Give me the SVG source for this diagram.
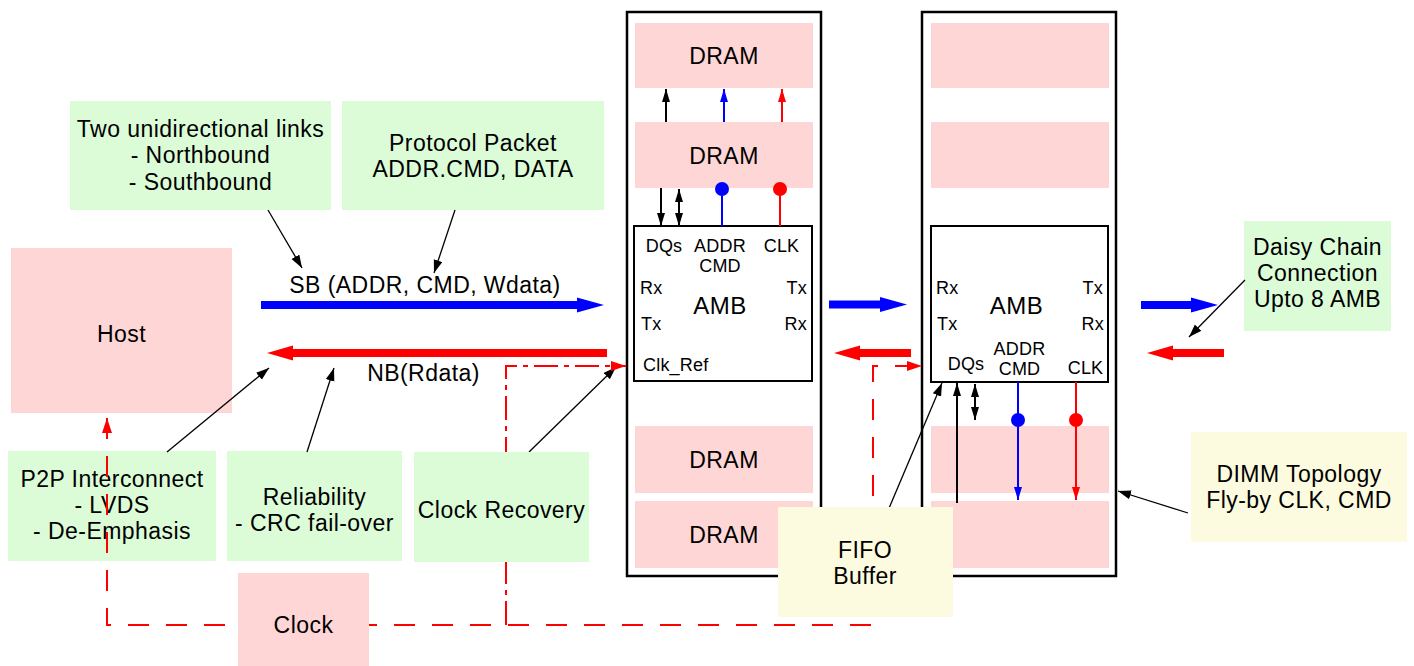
<svg xmlns="http://www.w3.org/2000/svg" width="1414" height="666" viewBox="0 0 1414 666">
<style>
.pink{fill:#ffd6d6}
.green{fill:#dcfcd8}
.yellow{fill:#fdfbdf}
.t{font-family:"Liberation Sans",Arial,sans-serif;font-size:23px;letter-spacing:0.45px;fill:#000;text-anchor:middle}
.s{font-family:"Liberation Sans",Arial,sans-serif;font-size:18px;letter-spacing:0.2px;fill:#000}
.m{text-anchor:middle}
.e{text-anchor:end}
.frame{fill:none;stroke:#000;stroke-width:2.5}
.amb{fill:#fff;stroke:#000;stroke-width:2}
.thin{fill:none;stroke:#000;stroke-width:1.3;marker-end:url(#ab)}
.k{fill:none;stroke:#000;stroke-width:2;marker-end:url(#abk)}
.kk{fill:none;stroke:#000;stroke-width:2;marker-start:url(#abk);marker-end:url(#abk)}
.bl{fill:none;stroke:#0000ff;stroke-width:2}
.rd{fill:none;stroke:#ff0000;stroke-width:2}
.dash{fill:none;stroke:#ff0000;stroke-width:2;stroke-dasharray:21 17}
.dashdot{fill:none;stroke:#ff0000;stroke-width:2;stroke-dasharray:24 6 5 6}
</style>
<defs>
<marker id="ab" markerUnits="userSpaceOnUse" markerWidth="14" markerHeight="10" refX="13" refY="4.5" orient="auto"><path d="M0,0 L13,4.5 L0,9 z" fill="#000"/></marker>
<marker id="abk" markerUnits="userSpaceOnUse" markerWidth="14" markerHeight="10" refX="13" refY="4" orient="auto-start-reverse"><path d="M0,0 L13,4 L0,8 z" fill="#000"/></marker>
<marker id="abb" markerUnits="userSpaceOnUse" markerWidth="14" markerHeight="10" refX="13" refY="4" orient="auto"><path d="M0,0 L13,4 L0,8 z" fill="#0000ff"/></marker>
<marker id="abr" markerUnits="userSpaceOnUse" markerWidth="14" markerHeight="10" refX="13" refY="4" orient="auto"><path d="M0,0 L13,4 L0,8 z" fill="#ff0000"/></marker>
<marker id="adr" markerUnits="userSpaceOnUse" markerWidth="16" markerHeight="11" refX="15" refY="5" orient="auto-start-reverse"><path d="M0,0 L15,5 L0,10 z" fill="#ff0000"/></marker>
</defs>
<rect width="1414" height="666" fill="#fff"/>

<g id="dimm1">
<rect class="frame" x="627" y="12" width="194" height="564"/>
<g id="dimm1-dram1"><rect class="pink" x="635" y="23" width="178" height="65"/><text class="t" x="724" y="64">DRAM</text></g>
<g id="dimm1-dram2"><rect class="pink" x="635" y="122" width="178" height="66"/><text class="t" x="724" y="164">DRAM</text></g>
<g id="dimm1-dram3"><rect class="pink" x="635" y="426" width="178" height="67"/><text class="t" x="724" y="468">DRAM</text></g>
<g id="dimm1-dram4"><rect class="pink" x="635" y="501" width="178" height="67"/><text class="t" x="724" y="543">DRAM</text></g>
<g id="amb1">
<rect class="amb" x="634" y="226" width="178" height="155"/>
<text class="s m" x="664" y="252">DQs</text>
<text class="s m" x="720" y="252">ADDR</text>
<text class="s m" x="720" y="272">CMD</text>
<text class="s m" x="781.5" y="252">CLK</text>
<text class="s" x="640" y="294">Rx</text>
<text class="s e" x="807" y="294">Tx</text>
<text class="t" x="720" y="314" style="font-size:24px">AMB</text>
<text class="s" x="641" y="330">Tx</text>
<text class="s e" x="807" y="330">Rx</text>
<text class="s" x="643" y="371">Clk_Ref</text>
</g>
</g>

<g id="dimm2">
<rect class="frame" x="922" y="12" width="194" height="564"/>
<rect id="dimm2-dram1" class="pink" x="931" y="23" width="178" height="65"/>
<rect id="dimm2-dram2" class="pink" x="931" y="122" width="178" height="66"/>
<rect id="dimm2-dram3" class="pink" x="931" y="426" width="178" height="67"/>
<rect id="dimm2-dram4" class="pink" x="931" y="501" width="178" height="67"/>
<g id="amb2">
<rect class="amb" x="931" y="226" width="177" height="156"/>
<text class="s" x="936" y="294">Rx</text>
<text class="s e" x="1103" y="294">Tx</text>
<text class="t" x="1016.5" y="314" style="font-size:24px">AMB</text>
<text class="s" x="937" y="330">Tx</text>
<text class="s e" x="1104" y="330">Rx</text>
<text class="s m" x="1019.5" y="355">ADDR</text>
<text class="s m" x="1019.5" y="375">CMD</text>
<text class="s m" x="966" y="370">DQs</text>
<text class="s m" x="1085.5" y="374">CLK</text>
</g>
</g>

<g id="host"><rect class="pink" x="11" y="248" width="221" height="165"/><text class="t" x="121.5" y="342">Host</text></g>

<g id="note-links"><rect class="green" x="70" y="101" width="261" height="109"/>
<text class="t"><tspan x="200.5" y="137">Two unidirectional links</tspan><tspan x="200.5" y="163">- Northbound</tspan><tspan x="200.5" y="190">- Southbound</tspan></text></g>

<g id="note-protocol"><rect class="green" x="342" y="101" width="262" height="109"/>
<text class="t"><tspan x="473" y="151">Protocol Packet</tspan><tspan x="473" y="177">ADDR.CMD, DATA</tspan></text></g>

<g id="note-p2p"><rect class="green" x="8" y="451" width="208" height="110"/>
<text class="t"><tspan x="112" y="487">P2P Interconnect</tspan><tspan x="112" y="513">- LVDS</tspan><tspan x="112" y="539">- De-Emphasis</tspan></text></g>

<g id="note-reliability"><rect class="green" x="227" y="451" width="175" height="110"/>
<text class="t"><tspan x="314.5" y="505">Reliability</tspan><tspan x="314.5" y="531">- CRC fail-over</tspan></text></g>

<g id="note-daisy"><rect class="green" x="1244" y="221" width="147" height="110"/>
<text class="t"><tspan x="1317.5" y="255">Daisy Chain</tspan><tspan x="1317.5" y="281">Connection</tspan><tspan x="1317.5" y="307">Upto 8 AMB</tspan></text></g>

<g id="note-topology"><rect class="yellow" x="1191" y="432" width="216" height="110"/>
<text class="t"><tspan x="1299" y="482">DIMM Topology</tspan><tspan x="1299" y="508">Fly-by CLK, CMD</tspan></text></g>

<g id="connectors">
<text class="t" x="425" y="293">SB (ADDR, CMD, Wdata)</text>
<text class="t" x="423.5" y="381">NB(Rdata)</text>
<polygon fill="#0000ff" points="261,301 577,301 577,297.5 604,305 577,312.5 577,309 261,309"/>
<polygon fill="#ff0000" points="607,349 293,349 293,345.5 267,353 293,360.5 293,357 607,357"/>
<polygon fill="#0000ff" points="829,300.5 880,300.5 880,297 907,304.5 880,312 880,308.5 829,308.5"/>
<polygon fill="#ff0000" points="911,349 860,349 860,345.5 834,353 860,360.5 860,357 911,357"/>
<polygon fill="#0000ff" points="1141,301 1191,301 1191,297.5 1218,305 1191,312.5 1191,309 1141,309"/>
<polygon fill="#ff0000" points="1224,349 1173,349 1173,345.5 1147,353 1173,360.5 1173,357 1224,357"/>

<path class="thin" d="M268,210 L302,268"/>
<path class="thin" d="M455,210 L434,273"/>
<path class="thin" d="M167,452 L269,368"/>
<path class="thin" d="M307,452 L334,368"/>
<path class="thin" d="M529,452 L616,367"/>
<path class="thin" d="M887,513 L942,383"/>
<path class="thin" d="M1245,280 L1189,337"/>
<path class="thin" d="M1188,513 L1118,491"/>

<path class="k" d="M666,122 V89"/>
<path class="bl" d="M724,122 V89" marker-end="url(#abb)"/>
<path class="rd" d="M782,122 V89" marker-end="url(#abr)"/>
<path class="k" d="M661,188 V226"/>
<path class="kk" d="M679,189 V226"/>
<path class="bl" d="M722,190 V226"/><circle cx="722" cy="189" r="7" fill="#0000ff"/>
<path class="rd" d="M780,190 V226"/><circle cx="780" cy="189" r="7" fill="#ff0000"/>

<path class="k" d="M957,503 V383"/>
<path class="kk" d="M975,384 V420"/>
<path class="bl" d="M1018,382 V500" marker-end="url(#abb)"/><circle cx="1018" cy="420" r="7" fill="#0000ff"/>
<path class="rd" d="M1076,382 V500" marker-end="url(#abr)"/><circle cx="1076" cy="420" r="7" fill="#ff0000"/>

<path class="dash" d="M107,418 V625 H873 V366 H922" marker-start="url(#adr)" marker-end="url(#adr)"/>
<path class="dashdot" d="M506,625 V366 H626" marker-end="url(#adr)"/>
</g>

<g id="clock-recovery"><rect class="green" x="414" y="452" width="175" height="110"/><text class="t" x="501.5" y="518">Clock Recovery</text></g>
<g id="clock"><rect class="pink" x="238" y="573" width="131" height="93"/><text class="t" x="303.5" y="633">Clock</text></g>
<g id="fifo"><rect class="yellow" x="778" y="507" width="175" height="110"/>
<text class="t"><tspan x="865" y="558">FIFO</tspan><tspan x="865" y="584">Buffer</tspan></text></g>
</svg>
